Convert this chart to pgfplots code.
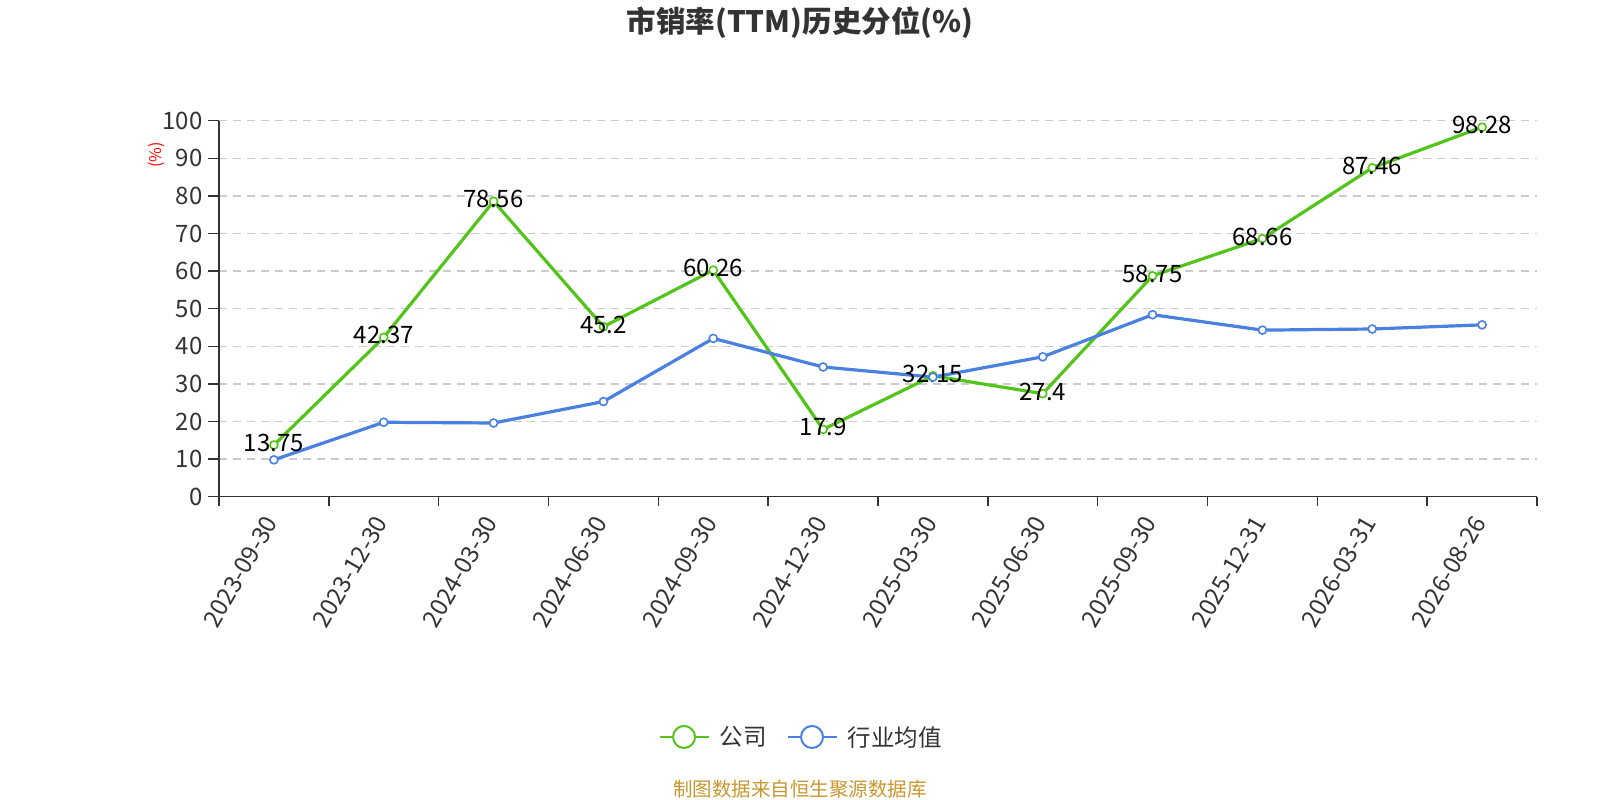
\documentclass[border=0pt]{standalone}
\usepackage{pgfplots}
\pgfplotsset{compat=1.18}
\usepackage{pgfplotstable}
\usepackage{fontspec}
\setmainfont{Noto Sans CJK SC}
\definecolor{cgreen}{HTML}{52C41A}
\definecolor{cblue}{HTML}{4A80E0}
\definecolor{ctext}{HTML}{333333}
\definecolor{cgrid}{HTML}{CCCCCC}
\definecolor{cfoot}{HTML}{C9972F}

\pgfplotstableread{
x y lab
0 13.75 13.75
1 42.37 42.37
2 78.56 78.56
3 45.2 45.2
4 60.26 60.26
5 17.9 17.9
6 32.15 32.15
7 27.4 27.4
8 58.75 58.75
9 68.66 68.66
10 87.46 87.46
11 98.28 98.28
}\company

\pgfplotstableread{
x y
0 9.8
1 19.8
2 19.6
3 25.3
4 42.1
5 34.5
6 31.8
7 37.2
8 48.4
9 44.3
10 44.6
11 45.7
}\industry

\begin{document}
\begin{tikzpicture}
\useasboundingbox (0,0) rectangle (1600pt,800pt);
\begin{axis}[
  at={(219pt,303.3pt)}, anchor=south west,
  scale only axis, width=1318pt, height=376pt,
  xmin=-0.5, xmax=11.5, ymin=0, ymax=100,
  axis lines*=left,
  axis line style={ctext, line width=1.5pt, -},
  xtick={0,...,11},
  xticklabels={2023-09-30,2023-12-30,2024-03-30,2024-06-30,2024-09-30,2024-12-30,2025-03-30,2025-06-30,2025-09-30,2025-12-31,2026-03-31,2026-08-26},
  minor xtick={-0.5,0.5,...,11.5},
  major x tick style={draw=none},
  minor x tick style={ctext, line width=1.5pt},
  minor tick length=9pt,
  ytick={0,10,...,100},
  y tick style={ctext, line width=1.5pt},
  major tick length=11pt,
  tick align=outside,
  ymajorgrids,
  y grid style={cgrid, line width=1.3pt, dash pattern=on 8pt off 6pt},
  /pgf/number format/assume math mode=true,
  ticklabel style={font=\fontsize{24}{28}\selectfont, text=ctext},
  yticklabel style={xshift=-2pt},
  xticklabel style={rotate=60, anchor=east, xshift=-7pt, yshift=-3pt},
  legend style={at={(0.4416,-0.639)}, anchor=center, draw=none, fill=none,
    legend columns=2, font=\fontsize{23.5}{27}\selectfont, text=ctext,
    /tikz/every odd column/.append style={column sep=8pt},
    /tikz/every even column/.append style={column sep=18pt}},
  legend cell align=left,
]
\addplot[cgreen, line width=3.2pt, mark=*, mark size=4pt,
  mark options={fill=white, draw=cgreen, line width=1.6pt},
  nodes near coords, point meta=explicit symbolic,
  every node near coord/.append style={font=\fontsize{24}{28}\selectfont, text=black, anchor=center, yshift=2pt},
  legend image code/.code={
    \draw[cgreen, line width=2pt] (0pt,0pt) -- (49pt,0pt);
    \draw[cgreen, line width=2pt, fill=white] (24.5pt,0pt) circle (11pt);}
] table[x=x, y=y, meta=lab] {\company};
\addlegendentry{公司}
\addplot[cblue, line width=3.2pt, mark=*, mark size=4pt,
  mark options={fill=white, draw=cblue, line width=1.6pt},
  legend image code/.code={
    \draw[cblue, line width=2pt] (0pt,0pt) -- (49pt,0pt);
    \draw[cblue, line width=2pt, fill=white] (24.5pt,0pt) circle (11pt);}
] table[x=x, y=y] {\industry};
\addlegendentry{行业均值}
\end{axis}
\node[font=\bfseries\fontsize{29.5}{34}\selectfont, text=ctext] at (800pt,777.5pt) {市销率(TTM)历史分位(\%)};
\node[rotate=90, text=red, font=\fontsize{16}{19}\selectfont] at (156.7pt,645pt) {(\%)};
\node[text=cfoot, font=\fontsize{19.5}{23}\selectfont] at (800pt,11pt) {制图数据来自恒生聚源数据库};
\end{tikzpicture}
\end{document}
